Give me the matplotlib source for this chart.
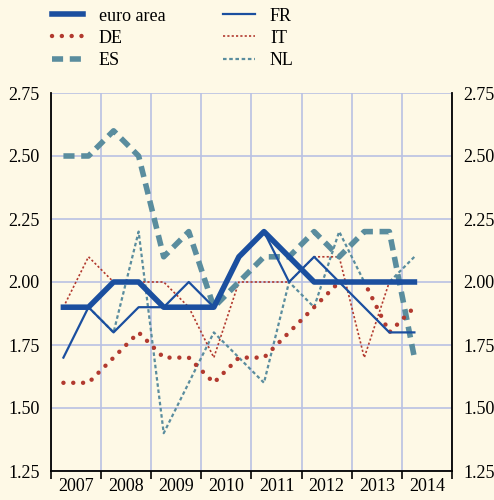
import numpy as np
import matplotlib
matplotlib.use("Agg")
import matplotlib.pyplot as plt
from matplotlib.ticker import FixedLocator, NullFormatter, FixedFormatter

# half-yearly observations, 2007 H1 .. 2014 H1
years = [2007, 2008, 2009, 2010, 2011, 2012, 2013, 2014]
euro_area = [1.9, 1.9, 2.0, 2.0, 1.9, 1.9, 1.9, 2.1, 2.2, 2.1, 2.0, 2.0, 2.0, 2.0, 2.0]
de = [1.6, 1.6, 1.7, 1.8, 1.7, 1.7, 1.6, 1.7, 1.7, 1.8, 1.9, 2.0, 2.0, 1.8, 1.9]
es = [2.5, 2.5, 2.6, 2.5, 2.1, 2.2, 1.9, 2.0, 2.1, 2.1, 2.2, 2.1, 2.2, 2.2, 1.7]
fr = [1.7, 1.9, 1.8, 1.9, 1.9, 2.0, 1.9, 2.1, 2.2, 2.0, 2.1, 2.0, 1.9, 1.8, 1.8]
it = [1.9, 2.1, 2.0, 2.0, 2.0, 1.9, 1.7, 2.0, 2.0, 2.0, 2.1, 2.1, 1.7, 2.0, np.nan]
nl = [1.9, 1.9, 1.8, 2.2, 1.4, 1.6, 1.8, 1.7, 1.6, 2.0, 1.9, 2.2, 2.0, 2.0, 2.1]
y_ticks = [1.25, 1.50, 1.75, 2.00, 2.25, 2.50, 2.75]

bg = "#fef9e6"
blue = "#1b4f9f"
red = "#b23a2f"
teal = "#5a8d9e"
grid_col = "#b9c1e3"

plt.rcParams["font.family"] = ["Liberation Serif", "DejaVu Serif"]

t = years[0] + 0.25 + 0.5 * np.arange(len(euro_area))

fig = plt.figure(figsize=(4.94, 5.0), dpi=100, facecolor=bg)
ax = fig.add_axes([0.103, 0.058, 0.812, 0.756], facecolor=bg)

ax.plot(t, nl, color=teal, lw=1.6, ls=(0, (1.6, 1.2)), label="NL", zorder=3)
ax.plot(t, it, color=red, lw=1.2, ls=(0, (1.3, 1.3)), label="IT", zorder=3)
ax.plot(t, fr, color=blue, lw=1.6, label="FR", zorder=4)
ax.plot(t, es, color=teal, lw=4.0, ls=(0, (2.0, 1.2)), label="ES", zorder=3)
ax.plot(t, de, color=red, lw=3.2, ls=(0, (0.01, 2.2)), dash_capstyle="round",
        label="DE", zorder=3)
ax.plot(t, euro_area, color=blue, lw=4.0, label="euro area", zorder=5)

ax.set_xlim(years[0], years[-1] + 1)
ax.set_ylim(y_ticks[0], y_ticks[-1])

ax.xaxis.set_major_locator(FixedLocator(years + [years[-1] + 1]))
ax.xaxis.set_major_formatter(NullFormatter())
ax.xaxis.set_minor_locator(FixedLocator([y + 0.5 for y in years]))
ax.xaxis.set_minor_formatter(FixedFormatter([str(y) for y in years]))
ax.tick_params(axis="x", which="major", direction="out", length=6, width=1.2, color="black")
ax.tick_params(axis="x", which="minor", length=0, labelsize=13, pad=5)

ax.set_yticks(y_ticks)
ax.set_yticklabels([f"{v:.2f}" for v in y_ticks])
ax.tick_params(axis="y", length=0, labelsize=13, pad=8, labelright=True)

ax.grid(True, which="major", color=grid_col, lw=1.2)
ax.set_axisbelow(True)
for side in ["left", "right", "bottom"]:
    ax.spines[side].set_color("black")
    ax.spines[side].set_linewidth(1.3)
ax.spines["top"].set_visible(False)

handles, labels = ax.get_legend_handles_labels()
order = ["euro area", "DE", "ES", "FR", "IT", "NL"]
hmap = dict(zip(labels, handles))
fig.legend([hmap[k] for k in order], order, ncol=2, loc="upper left",
           bbox_to_anchor=(0.09, 0.999), frameon=False, fontsize=13,
           handlelength=1.75, handletextpad=0.85, columnspacing=3.2,
           labelspacing=0.28, borderaxespad=0.0)

fig.savefig("out.png", dpi=100, facecolor=bg)
